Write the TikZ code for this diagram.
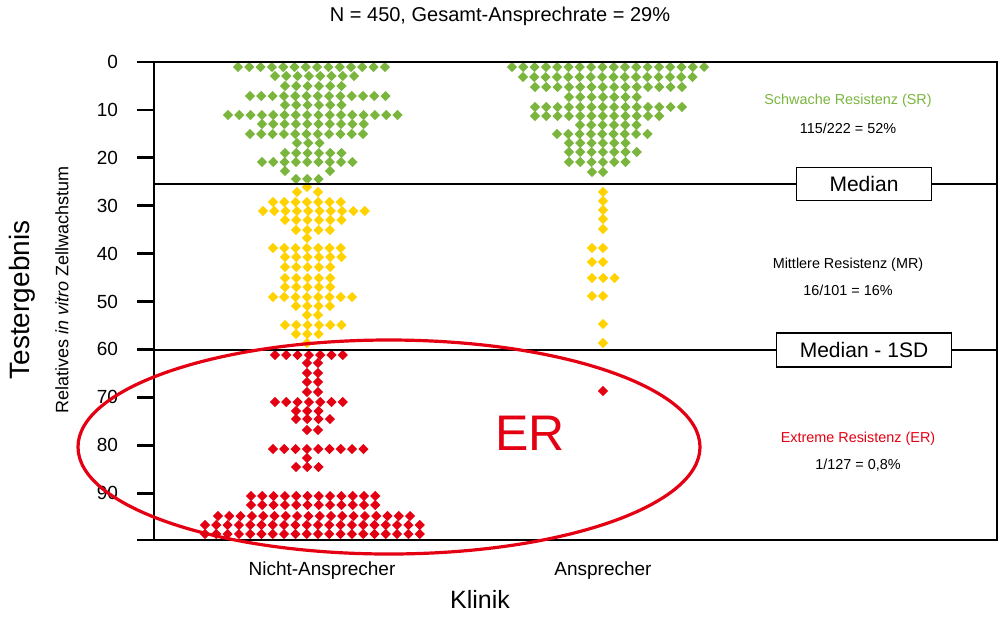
\documentclass[tikz,border=0pt]{standalone}
\usepackage{fontspec}
\setmainfont{Liberation Sans}
\definecolor{cg}{RGB}{122,182,62}
\definecolor{cy}{RGB}{255,210,0}
\definecolor{cr}{RGB}{228,0,18}
\newcommand\dotrow[4]{\foreach \i in {1,...,#4}{\fill[#1] ({#3+11.3*(\i-1)},{#2-5.1}) -- ++(5.1,5.1) -- ++(-5.1,5.1) -- ++(-5.1,-5.1) -- cycle;}}
\newcommand\dotat[3]{\fill[#1] (#3,{#2-5.1}) -- ++(5.1,5.1) -- ++(-5.1,5.1) -- ++(-5.1,-5.1) -- cycle;}
\begin{document}
\begin{tikzpicture}[x=0.5pt,y=-0.5pt,
  ax/.style={line width=1.4pt},
  lab/.style={font=\fontsize{9.5}{11}\selectfont},
  side/.style={font=\fontsize{7.2}{8.5}\selectfont},
  mbox/.style={draw,fill=white,line width=0.9pt,font=\fontsize{10.5}{12}\selectfont,inner sep=0pt}]
\useasboundingbox[fill=white] (0,0) rectangle (1000,618);
% dots left green
\dotrow{cg}{67}{238}{14}
\dotrow{cg}{76}{275}{8}
\dotrow{cg}{86}{285}{6}
\dotrow{cg}{96}{250}{13}
\dotrow{cg}{105}{285}{6}
\dotrow{cg}{115}{228}{16}
\dotrow{cg}{124}{262}{10}
\dotrow{cg}{134}{250}{11}
\dotrow{cg}{143}{297}{3}
\dotrow{cg}{153}{285}{6}
\dotrow{cg}{162}{262}{9}
\dotat{cg}{171}{285}\dotat{cg}{171}{330}
\dotrow{cg}{179}{296}{3}
% left yellow
\dotat{cy}{187}{307}
\dotat{cy}{192}{297}\dotat{cy}{192}{318}
\dotrow{cy}{202}{273}{7}
\dotrow{cy}{211}{263}{10}
\dotrow{cy}{220}{285}{6}
\dotrow{cy}{230}{296}{4}
\dotat{cy}{238}{307}
\dotrow{cy}{248}{273}{7}
\dotrow{cy}{257}{285}{6}
\dotrow{cy}{267}{285}{5}
\dotrow{cy}{278}{285}{5}
\dotrow{cy}{287}{285}{5}
\dotrow{cy}{297}{273}{8}
\dotrow{cy}{306}{296}{4}
\dotat{cy}{315}{307}\dotat{cy}{315}{318}
\dotrow{cy}{325}{285}{6}
\dotrow{cy}{334}{296}{3}
\dotat{cy}{343}{307}
% left red
\dotrow{cr}{355}{275}{7}
\foreach \yy in {363,373,382,392}{\dotat{cr}{\yy}{307}\dotat{cr}{\yy}{318}}
\dotrow{cr}{402}{275}{7}
\dotrow{cr}{411}{296}{3}
\dotrow{cr}{419}{296}{4}
\dotat{cr}{430}{307}\dotat{cr}{430}{318}
\dotrow{cr}{449}{273}{9}
\dotat{cr}{458}{307}
\dotrow{cr}{467}{296}{3}
\dotrow{cr}{496}{251}{12}
\dotrow{cr}{505}{251}{12}
\dotrow{cr}{516}{218}{18}
\dotrow{cr}{525}{205}{20}
\dotrow{cr}{534}{205}{20}
% right green
\dotrow{cg}{67}{512}{18}
\dotrow{cg}{77}{523}{16}
\dotrow{cg}{87}{535}{14}
\dotrow{cg}{97}{569}{7}
\dotrow{cg}{107}{535}{14}
\dotrow{cg}{116}{535}{12}
\dotrow{cg}{125}{580}{6}
\dotrow{cg}{134}{557}{9}
\dotrow{cg}{143}{569}{6}
\dotrow{cg}{152}{569}{7}
\dotrow{cg}{162}{569}{6}
\dotat{cg}{172}{592}\dotat{cg}{172}{603}
% right yellow
\foreach \yy in {192,201,210,219,229,324,343}{\dotat{cy}{\yy}{603}}
\foreach \yy in {248,262,296}{\dotat{cy}{\yy}{592}\dotat{cy}{\yy}{603}}
\dotrow{cy}{278}{592}{3}
\dotat{cr}{391}{603}
% frame
\draw[ax] (154,62) -- (997,62) -- (997,540) -- (154,540) -- cycle;
\draw[line width=0.9pt] (154,184) -- (997,184);
\draw[line width=0.9pt] (154,350) -- (997,350);
\foreach \v in {0,10,...,90}{
  \draw[ax] (137,{62+4.79*\v}) -- (154,{62+4.79*\v});
  \node[lab,anchor=east] at (125,{62+4.79*\v}) {\v};}
\draw[ax] (137,540) -- (154,540);
\node[mbox,minimum width=67.5pt,minimum height=16.5pt] (med) at (864,184) {Median};
\node[mbox,minimum width=87.5pt,minimum height=17pt] (msd) at (864,350) {Median - 1SD};
% ellipse
\draw[cr,line width=1.6pt] (389,447) ellipse [x radius=311,y radius=107];
\node[cr,font=\fontsize{25}{28}\selectfont] (er) at (530,433) {ER};
% texts
\node[font=\fontsize{10}{12}\selectfont] (title) at (500,16) {N = 450, Gesamt-Ansprechrate = 29\%};
\node[side,text=cg] (sr) at (848,101) {Schwache Resistenz (SR)};
\node[side] (sr2) at (848,128) {115/222 = 52\%};
\node[side] (mr) at (848,265) {Mittlere Resistenz (MR)};
\node[side] (mr2) at (848,290) {16/101 = 16\%};
\node[side,text=cr] (erl) at (858,439) {Extreme Resistenz (ER)};
\node[side] (erl2) at (858,465) {1/127 = 0,8\%};
\node[lab] (xa) at (322,571) {Nicht-Ansprecher};
\node[lab] (xb) at (603,571) {Ansprecher};
\node[font=\fontsize{12.5}{14}\selectfont] (kl) at (480,599) {Klinik};
\node[rotate=90,font=\fontsize{14}{16}\selectfont] (te) at (22,300) {Testergebnis};
\node[rotate=90,font=\fontsize{9}{11}\selectfont] (rel) at (62,290) {Relatives \textit{in vitro} Zellwachstum};
\end{tikzpicture}
\end{document}
